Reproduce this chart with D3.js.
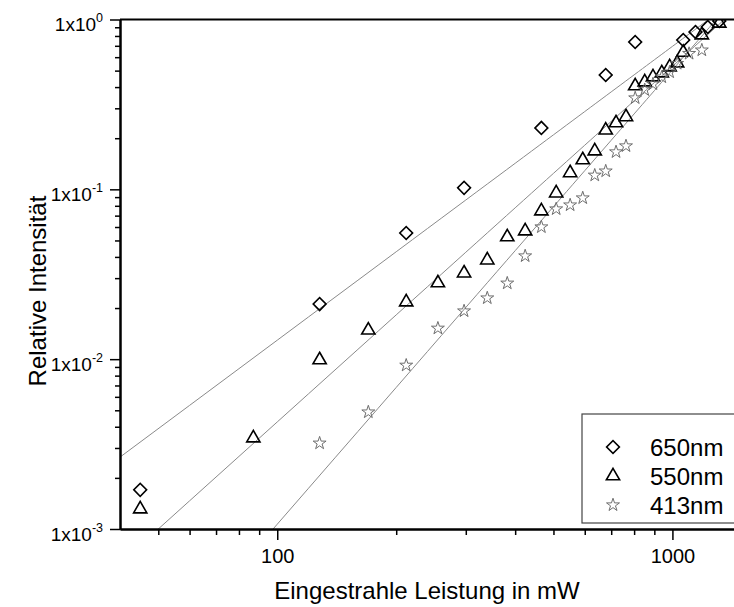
<!DOCTYPE html>
<html>
<head>
<meta charset="utf-8">
<script src="https://cdn.jsdelivr.net/npm/d3@7"></script>
<style>
  body { margin: 0; background: #fff; }
  svg { display: block; font-family: "Liberation Sans", Arial, sans-serif; }
</style>
</head>
<body>
<div id="chart"></div>
<script>
var power650 = [45, 128, 212, 297, 466, 678, 805, 1065, 1144, 1229, 1314];
var int650 = [0.0017, 0.0211, 0.0553, 0.102, 0.23, 0.471, 0.737, 0.757, 0.844, 0.903, 0.98];

var power550 = [45, 87, 128, 170, 212, 255, 297, 340, 382, 424, 466, 508, 551, 593, 636, 678, 720, 763, 805, 851, 893, 940, 984, 1028, 1065, 1187, 1314];
var int550 = [0.00131, 0.00343, 0.0099, 0.0148, 0.0217, 0.0281, 0.0321, 0.0383, 0.0524, 0.0568, 0.0745, 0.095, 0.125, 0.149, 0.168, 0.223, 0.246, 0.267, 0.406, 0.428, 0.458, 0.484, 0.525, 0.554, 0.64, 0.81, 0.95];

var power413 = [128, 170, 212, 255, 297, 340, 382, 424, 466, 508, 551, 593, 636, 678, 720, 763, 805, 851, 893, 940, 984, 1028, 1102, 1187];
var int413 = [0.0032, 0.00488, 0.0092, 0.0152, 0.0192, 0.0229, 0.028, 0.0405, 0.06, 0.0766, 0.0808, 0.0889, 0.121, 0.128, 0.166, 0.18, 0.345, 0.385, 0.417, 0.458, 0.49, 0.55, 0.63, 0.66];

// power law fits  y = fitY0 * (x / fitX0)^fitExp
var seriesNames = ["650nm", "550nm", "413nm"];
var fitX0 = [40, 50, 97.6];
var fitY0 = [0.00265, 0.001, 0.001];
var fitExp = [1.73, 2.094, 2.675];

var xMajor = [100, 1000];
var xMinor = [50, 60, 70, 80, 90, 200, 300, 400, 500, 600, 700, 800, 900];
var yMajor = [0.001, 0.01, 0.1, 1];
var yExpLabels = ["-3", "-2", "-1", "0"];

var W = 734, H = 607;
var margin = {top: 19.5, left: 120, bottom: 78};
var plotH = H - margin.top - margin.bottom;

var svg = d3.select("#chart")
  .append("svg")
  .attr("width", W)
  .attr("height", H);

var x = d3.scaleLog()
  .domain([40, 1500])
  .range([margin.left, 742]);
var y = d3.scaleLog()
  .domain([0.001, 1])
  .range([margin.top + plotH, margin.top]);

var yMinor = [];
[0.001, 0.01, 0.1].forEach(function(d) {
  for (var k = 2; k <= 9; k++) yMinor.push(d * k);
});

svg.append("clipPath").attr("id", "clip")
  .append("rect")
  .attr("x", x.range()[0]).attr("y", y.range()[1])
  .attr("width", x.range()[1] - x.range()[0])
  .attr("height", y.range()[0] - y.range()[1]);

// fit lines
var plot = svg.append("g").attr("clip-path", "url(#clip)");
seriesNames.forEach(function(name, i) {
  var pts = x.ticks(60).concat(x.domain());
  pts.sort(function(a, b) { return a - b; });
  plot.append("path")
    .datum(pts)
    .attr("fill", "none")
    .attr("stroke", "#8a8a8a")
    .attr("stroke-width", 1)
    .attr("d", d3.line()
      .x(function(d) { return x(d); })
      .y(function(d) { return y(fitY0[i] * Math.pow(d / fitX0[i], fitExp[i])); }));
});

// symbols
var diamond = d3.symbol().type(d3.symbolSquare).size(82);
var triangle = d3.symbol().type(d3.symbolTriangle).size(76);
var star = d3.symbol().type(d3.symbolStar).size(52);

var symbolPaths = [diamond(), triangle(), star()];
var symbolRot = [45, 0, 0];
var symbolColor = ["#000", "#000", "#6e6e6e"];
var symbolWidth = [1.6, 1.6, 1];
var seriesX = [power650, power550, power413];
var seriesY = [int650, int550, int413];

seriesNames.forEach(function(name, i) {
  plot.append("g")
    .selectAll("path")
    .data(d3.range(seriesX[i].length))
    .enter()
    .append("path")
    .attr("d", symbolPaths[i])
    .attr("transform", function(j) {
      return "translate(" + x(seriesX[i][j]) + "," + y(seriesY[i][j]) + ") rotate(" + symbolRot[i] + ")";
    })
    .attr("fill", "none")
    .attr("stroke", symbolColor[i])
    .attr("stroke-width", symbolWidth[i]);
});

// axes
var xAxisG = svg.append("g").attr("transform", "translate(0," + y.range()[0] + ")");
xAxisG.append("g")
  .call(d3.axisBottom(x).tickValues(xMinor).tickSize(6).tickSizeOuter(0).tickFormat(""));
xAxisG.append("g")
  .call(d3.axisBottom(x).tickValues(xMajor).tickSize(11).tickSizeOuter(0).tickPadding(9)
    .tickFormat(d3.format("d")));

var yAxisG = svg.append("g").attr("transform", "translate(" + margin.left + ",0)");
yAxisG.append("g")
  .call(d3.axisLeft(y).tickValues(yMinor).tickSize(5).tickSizeOuter(0).tickFormat(""));
yAxisG.append("g")
  .attr("class", "ymajor")
  .call(d3.axisLeft(y).tickValues(yMajor).tickSize(10).tickSizeOuter(0).tickPadding(7)
    .tickFormat(""));

svg.selectAll(".domain").attr("stroke", "#000").attr("stroke-width", 2);
svg.selectAll(".tick line").attr("stroke", "#000").attr("stroke-width", 1.5);
xAxisG.selectAll("text")
  .attr("font-size", "20px")
  .attr("font-family", "Liberation Sans, Arial, sans-serif")
  .attr("fill", "#000");

// y labels as 1x10^n
yAxisG.select(".ymajor").selectAll(".tick text")
  .attr("font-family", "Liberation Sans, Arial, sans-serif")
  .attr("font-size", "19px")
  .attr("fill", "#000")
  .attr("dy", 11)
  .each(function(d, i) {
    var t = d3.select(this);
    t.append("tspan").text("1x10");
    t.append("tspan").attr("dy", -9).attr("font-size", "12.5px").text(yExpLabels[i]);
  });

// top frame line
svg.append("line")
  .attr("x1", margin.left).attr("x2", W + 10)
  .attr("y1", y.range()[1]).attr("y2", y.range()[1])
  .attr("stroke", "#000").attr("stroke-width", 2);

// axis titles
svg.append("text")
  .attr("x", 427).attr("y", 599)
  .attr("text-anchor", "middle")
  .attr("font-size", "24px")
  .text("Eingestrahle Leistung in mW");

svg.append("text")
  .attr("transform", "translate(46,291) rotate(-90)")
  .attr("text-anchor", "middle")
  .attr("font-size", "24px")
  .text("Relative Intensität");

// legend
var legend = svg.append("g").attr("transform", "translate(582,414)");
legend.append("rect")
  .attr("width", 200).attr("height", 109)
  .attr("fill", "#fff")
  .attr("stroke", "#444")
  .attr("stroke-width", 1.2);
seriesNames.forEach(function(name, i) {
  var row = legend.append("g").attr("transform", "translate(31," + (33 + i * 29) + ")");
  row.append("path")
    .attr("d", symbolPaths[i])
    .attr("transform", "rotate(" + symbolRot[i] + ")")
    .attr("fill", "none")
    .attr("stroke", symbolColor[i])
    .attr("stroke-width", symbolWidth[i]);
  row.append("text")
    .attr("x", 37).attr("y", 8.5)
    .attr("font-size", "24px")
    .text(name);
});
</script>
</body>
</html>
